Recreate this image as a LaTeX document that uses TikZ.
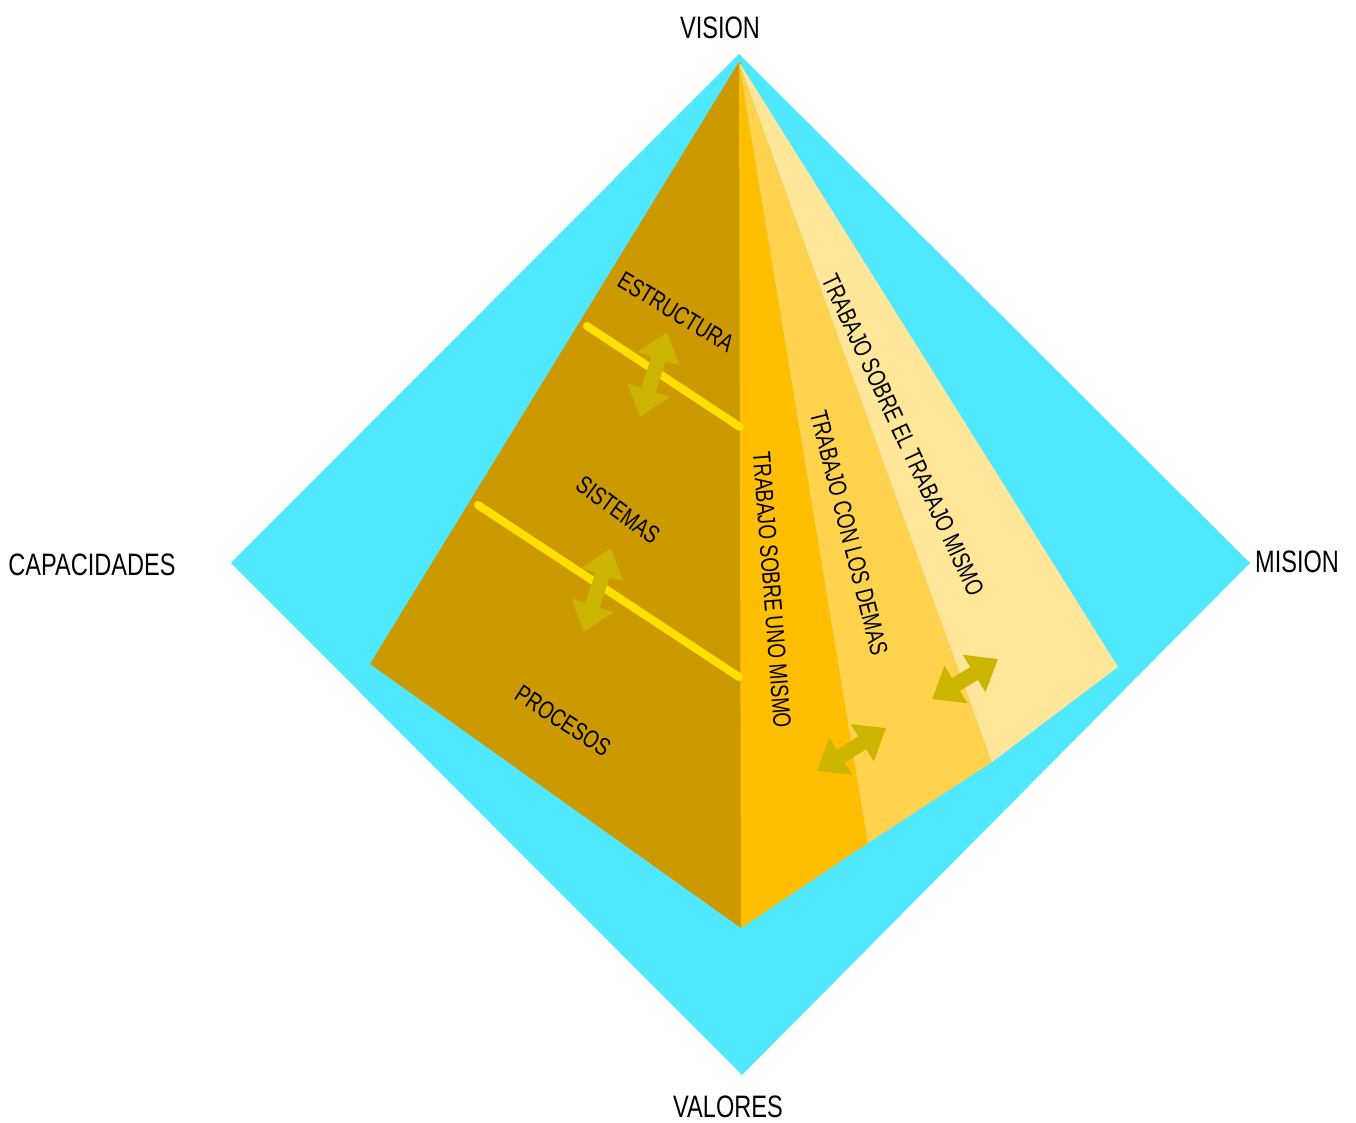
\documentclass[tikz,border=0pt]{standalone}
\usepackage{fontspec}
\setmainfont{Liberation Sans}[FakeStretch=0.76]
\usepackage{xcolor}
\usetikzlibrary{arrows.meta, positioning}
\definecolor{skycyan}{RGB}{79,232,255}
\definecolor{facedark}{RGB}{204,153,0}
\definecolor{stripone}{RGB}{255,191,0}
\definecolor{striptwo}{RGB}{255,210,77}
\definecolor{stripthree}{RGB}{255,230,153}
\definecolor{levelline}{RGB}{255,224,0}
\definecolor{arrowcol}{RGB}{204,181,0}
\tikzset{
        corner/.style={font=\fontsize{15.5}{18}\selectfont, inner sep=0pt},
        level/.style={font=\fontsize{12.5}{15}\selectfont, inner sep=0pt, rotate=-33},
        facelabel/.style={font=\fontsize{12.5}{15}\selectfont, inner sep=0pt},
        divider/.style={draw=levelline, line width=4pt, line cap=round},
        dblarrow/.style={{Triangle[length=14pt,width=21pt]}-{Triangle[length=14pt,width=21pt]}, line width=7.5pt, draw=arrowcol},
    }
\begin{document}
\begin{tikzpicture}[x=0.5pt, y=-0.5pt]
        \useasboundingbox (0,0) rectangle (1356,1123);

        % Diamond background
        \coordinate (dtop) at (739,54);
        \coordinate (dleft) at (231,563);
        \coordinate (dright) at (1250,563);
        \coordinate (dbottom) at (742,1075);
        \fill[skycyan] (dtop) -- (dright) -- (dbottom) -- (dleft) -- cycle;

        % Pyramid corners
        \coordinate (apex) at (739,62);
        \coordinate (bleft) at (370,664);
        \coordinate (bfront) at (741,928);
        \coordinate (bright) at (1118,667);
        \coordinate (sone) at (868,843);
        \coordinate (stwo) at (992,762);

        % Faces
        \fill[facedark] (apex) -- (bleft) -- (bfront) -- (741,62) -- cycle;
        \fill[stripone] (apex) -- (bfront) -- (sone) -- cycle;
        \fill[striptwo] (apex) -- (sone) -- (stwo) -- cycle;
        \fill[stripthree] (apex) -- (stwo) -- (bright) -- cycle;

        % Level dividers
        \coordinate (lineAa) at (587,326);
        \coordinate (lineAb) at (740,427);
        \coordinate (lineBa) at (478,505);
        \coordinate (lineBb) at (739,677);
        \draw[divider] (lineAa) -- (lineAb);
        \draw[divider] (lineBa) -- (lineBb);

        % Double arrows
        \coordinate (arrAa) at (640,417);
        \coordinate (arrAb) at (667,332);
        \coordinate (arrBa) at (584,632);
        \coordinate (arrBb) at (611,548);
        \coordinate (arrCa) at (817,771);
        \coordinate (arrCb) at (886,728);
        \coordinate (arrDa) at (932,699);
        \coordinate (arrDb) at (998,659);
        \draw[dblarrow] (arrAa) -- (arrAb);
        \draw[dblarrow] (arrBa) -- (arrBb);
        \draw[dblarrow] (arrCa) -- (arrCb);
        \draw[dblarrow] (arrDa) -- (arrDb);

        % Level labels
        \node[level, rotate=2] (estructura) at (676,312) {ESTRUCTURA};
        \node[level, rotate=-3] (sistemas) at (618,510) {SISTEMAS};
        \node[level] (procesos) at (563,721) {PROCESOS};

        % Face labels
        \node[facelabel, rotate=-85.6] (uno) at (772,590) {TRABAJO SOBRE UNO MISMO};
        \node[facelabel, rotate=-75.7] (demas) at (849,533) {TRABAJO CON LOS DEMAS};
        \node[facelabel, rotate=-65] (trabajo) at (903,435) {TRABAJO SOBRE EL TRABAJO MISMO};

        % Corner labels
        \node[corner] (vision) at (720,28) {VISION};
        \node[corner] (capacidades) at (92,565) {CAPACIDADES};
        \node[corner] (mision) at (1297,562) {MISION};
        \node[corner] (valores) at (728,1107) {VALORES};
    \end{tikzpicture}
\end{document}
